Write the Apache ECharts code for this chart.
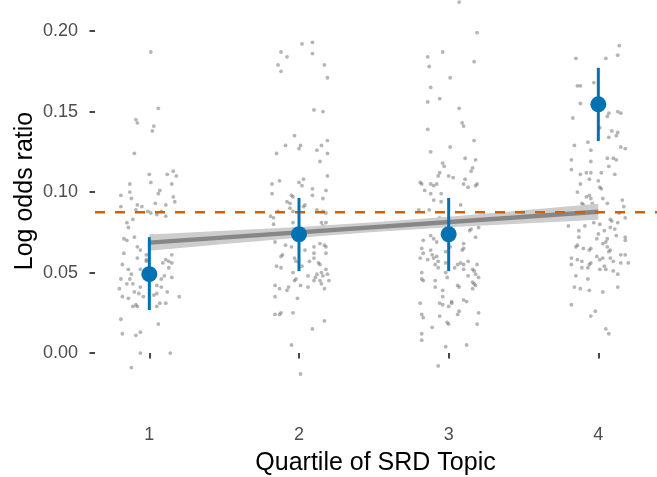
<!DOCTYPE html>
<html>
<head>
<meta charset="utf-8">
<script src="https://cdn.jsdelivr.net/npm/echarts@6/dist/echarts.min.js"></script>
<style>
  html, body { margin: 0; padding: 0; background: #ffffff; }
  #chart { width: 657px; height: 477px; }
</style>
</head>
<body>
<div id="chart"></div>
<script>
// Quartile positions and tick labels
const quartiles = [1, 2, 3, 4];
const yTicks = [0, 0.05, 0.10, 0.15, 0.20];

// Per-quartile estimates with intervals
const quartileMeans = [0.0490, 0.0738, 0.0738, 0.1545];
const quartileLower = [0.0267, 0.0509, 0.0509, 0.1317];
const quartileUpper = [0.0720, 0.0963, 0.0963, 0.1772];

// Overall reference level (dashed line)
const referenceLevel = 0.0875;

// Linear fit across quartiles and its confidence band
const fitX = [1, 1.5, 2, 2.5, 3, 3.5, 4];
const fitEnds = [0.0686, 0.0878];
const fitLow = [0.0636, 0.0677, 0.0717, 0.0752, 0.0781, 0.0805, 0.0828];
const fitHigh = [0.0736, 0.0759, 0.0783, 0.0812, 0.0847, 0.0887, 0.0928];

// Individual topic estimates: [horizontal jitter, log odds ratio]
const q1Points = [
  [0.01,0.187],[0.06,0.152],[-0.08,0.143],[-0.09,0.145],[0.03,0.141],[0.02,0.138],[-0.10,0.124],
  [0.00,0.111],[0.12,0.111],[0.16,0.113],[0.18,0.110],[-0.13,0.105],[0.01,0.106],[0.15,0.105],
  [-0.13,0.100],[0.07,0.101],[0.06,0.099],[-0.19,0.098],[-0.12,0.096],[0.04,0.093],[0.16,0.097],
  [0.17,0.094],[-0.08,0.092],[-0.05,0.091],[-0.19,0.091],[0.11,0.092],[-0.01,0.088],[0.01,0.087],
  [0.08,0.088],[-0.09,0.089],[-0.15,0.081],[-0.11,0.083],[0.05,0.086],[0.11,0.085],[-0.14,0.078],
  [0.02,0.073],[-0.17,0.071],[-0.15,0.070],[-0.10,0.072],[0.09,0.071],[-0.08,0.066],[-0.06,0.064],
  [-0.02,0.061],[0.15,0.061],[0.11,0.058],[0.13,0.057],[-0.17,0.062],[-0.08,0.059],[-0.02,0.058],
  [-0.02,0.057],[0.09,0.056],[0.15,0.056],[-0.18,0.055],[-0.14,0.052],[-0.06,0.052],[0.13,0.053],
  [-0.12,0.049],[-0.13,0.046],[-0.19,0.046],[0.08,0.046],[0.10,0.048],[0.15,0.047],[-0.15,0.043],
  [-0.11,0.043],[-0.06,0.041],[0.05,0.042],[0.08,0.041],[-0.20,0.040],[-0.10,0.038],[-0.07,0.037],
  [0.12,0.038],[-0.18,0.035],[-0.14,0.034],[-0.04,0.035],[0.03,0.036],[0.05,0.037],[0.20,0.035],
  [-0.09,0.030],[-0.11,0.029],[-0.08,0.029],[0.07,0.031],[0.05,0.029],[0.11,0.031],[-0.19,0.021],
  [0.06,0.018],[-0.18,0.012],[-0.09,0.011],[-0.06,0.013],[-0.06,0.000],[0.14,0.000],[-0.12,-0.009]
];
const q2Points = [
  [0.02,0.192],[0.09,0.193],[-0.12,0.187],[-0.08,0.184],[0.09,0.186],[-0.14,0.179],[-0.12,0.175],
  [0.17,0.179],[0.19,0.171],[0.10,0.151],[0.16,0.150],[-0.03,0.135],[-0.09,0.129],[0.01,0.129],
  [0.00,0.127],[0.15,0.129],[0.19,0.132],[-0.15,0.124],[0.12,0.126],[0.19,0.124],
  [0.14,0.119],[0.19,0.110],[-0.13,0.107],[-0.18,0.105],[0.00,0.106],[0.03,0.108],[0.02,0.104],
  [-0.18,0.099],[0.09,0.102],[0.18,0.101],[-0.05,0.098],[-0.04,0.097],[0.09,0.098],[0.16,0.096],
  [-0.08,0.094],[-0.06,0.093],[0.04,0.092],[0.03,0.091],[-0.06,0.090],[-0.14,0.088],[-0.19,0.085],
  [-0.17,0.084],[-0.04,0.088],[0.12,0.089],[0.16,0.088],[0.18,0.087],[-0.04,0.081],[-0.17,0.080],
  [-0.19,0.076],[0.15,0.081],[0.16,0.079],[0.18,0.081],[0.04,0.077],[0.18,0.076],[-0.09,0.067],
  [-0.16,0.069],[0.14,0.068],[0.17,0.067],[0.18,0.066],[-0.05,0.066],[0.10,0.066],[0.04,0.064],
  [0.10,0.062],[0.18,0.062],[-0.12,0.060],[-0.11,0.061],[-0.03,0.059],[-0.02,0.057],[0.07,0.057],
  [0.10,0.059],[0.13,0.056],[0.14,0.055],[-0.15,0.054],[-0.12,0.053],[0.02,0.054],[0.18,0.052],
  [0.15,0.050],[0.16,0.048],[0.19,0.049],[-0.04,0.050],[0.12,0.049],[0.11,0.047],[0.06,0.048],
  [-0.02,0.046],[-0.03,0.045],[0.10,0.045],[0.14,0.045],[0.20,0.045],[0.15,0.043],[-0.16,0.042],
  [-0.13,0.040],[-0.07,0.041],[-0.08,0.039],[0.01,0.042],[0.06,0.041],[0.17,0.040],[-0.16,0.035],
  [-0.01,0.034],[-0.16,0.024],[-0.13,0.024],[-0.12,0.025],[-0.04,0.025],[0.17,0.020],[0.09,0.015],
  [-0.05,0.005],[0.01,-0.013]
];
const q3Points = [
  [0.07,0.218],[0.19,0.199],[-0.04,0.187],[-0.14,0.184],[0.17,0.181],[-0.13,0.178],[0.01,0.171],
  [-0.12,0.165],[-0.06,0.158],[-0.14,0.156],[0.07,0.152],[0.09,0.143],[0.10,0.141],[-0.14,0.139],
  [0.17,0.132],[0.01,0.128],[-0.12,0.125],[0.11,0.121],[0.18,0.120],
  [-0.04,0.118],[-0.03,0.116],[0.16,0.115],[-0.06,0.112],[0.15,0.113],[-0.07,0.110],[0.00,0.110],
  [0.03,0.109],[0.11,0.108],[-0.19,0.106],[-0.18,0.105],[-0.12,0.105],[-0.10,0.104],[-0.08,0.105],
  [0.10,0.105],[0.13,0.103],[0.18,0.104],[0.19,0.105],[-0.16,0.101],[-0.12,0.099],[-0.05,0.099],
  [-0.10,0.095],[-0.05,0.094],[0.08,0.092],[-0.20,0.089],[-0.13,0.089],[-0.06,0.084],[0.09,0.084],
  [0.15,0.084],[-0.02,0.081],[0.15,0.077],[0.14,0.076],[0.20,0.078],[-0.12,0.073],[-0.17,0.070],
  [-0.10,0.071],[-0.08,0.069],[0.18,0.072],[0.10,0.068],[0.01,0.066],[-0.18,0.065],[-0.12,0.064],
  [0.09,0.064],[0.10,0.065],[-0.02,0.063],[-0.17,0.062],[-0.11,0.061],[-0.08,0.060],[-0.19,0.059],
  [-0.14,0.058],[-0.10,0.059],[-0.07,0.057],[-0.02,0.056],[0.13,0.057],[0.06,0.055],[0.08,0.056],
  [0.10,0.055],[0.19,0.055],[-0.09,0.055],[-0.07,0.053],[0.04,0.053],[0.10,0.052],[0.16,0.052],
  [0.17,0.051],[-0.02,0.050],[-0.01,0.047],[-0.18,0.050],[0.13,0.048],[0.18,0.049],[0.20,0.047],
  [-0.18,0.046],[-0.17,0.045],[-0.09,0.045],[0.16,0.044],[0.17,0.043],[0.18,0.042],[-0.09,0.041],
  [0.06,0.042],[0.07,0.041],[0.16,0.040],[-0.04,0.039],[-0.04,0.035],[-0.19,0.031],[-0.06,0.031],
  [-0.04,0.030],[0.02,0.032],[0.02,0.031],[0.00,0.029],[0.10,0.033],[0.12,0.032],[0.06,0.024],
  [0.07,0.026],[-0.18,0.024],[-0.17,0.022],[-0.06,0.023],[0.20,0.025],[-0.01,0.019],[0.00,0.018],
  [0.19,0.018],[-0.11,0.016],[-0.18,0.012],[-0.18,0.008],[-0.02,0.004],[0.12,0.005],[-0.07,-0.008]
];
const q4Points = [
  [0.14,0.191],[0.13,0.185],[-0.15,0.183],[0.05,0.183],[-0.03,0.168],[-0.14,0.166],[-0.12,0.166],
  [-0.12,0.155],[-0.17,0.146],[0.07,0.149],[0.06,0.147],[0.13,0.150],[0.15,0.149],[0.01,0.140],
  [0.09,0.138],[0.13,0.137],[0.12,0.135],[0.07,0.134],[-0.07,0.131],[-0.16,0.129],[0.15,0.128],
  [0.18,0.127],[-0.05,0.126],[-0.18,0.120],[0.06,0.121],[0.10,0.121],[0.12,0.120],
  [-0.05,0.119],[0.07,0.116],[-0.18,0.114],[-0.12,0.111],[-0.08,0.112],[-0.05,0.112],[0.02,0.112],
  [0.11,0.111],[-0.06,0.108],[0.00,0.107],[-0.12,0.105],[0.01,0.103],[0.02,0.102],[-0.14,0.100],
  [-0.08,0.097],[-0.06,0.098],[-0.05,0.096],[0.03,0.096],[0.16,0.095],[-0.11,0.093],[-0.10,0.092],
  [-0.07,0.091],[-0.04,0.093],[0.06,0.093],[0.17,0.091],[-0.14,0.086],[-0.05,0.085],[-0.04,0.084],
  [-0.03,0.081],[0.14,0.087],[0.08,0.083],[0.09,0.082],[0.18,0.084],[0.01,0.080],[0.13,0.081],
  [-0.20,0.079],[-0.09,0.079],[0.08,0.078],[0.11,0.077],[-0.13,0.076],[0.04,0.076],[0.00,0.074],
  [0.12,0.073],[0.18,0.072],[0.18,0.070],[-0.13,0.072],[-0.01,0.071],[0.06,0.071],[0.05,0.069],
  [0.03,0.068],[-0.14,0.067],[-0.15,0.066],[0.06,0.066],[-0.10,0.065],[-0.05,0.065],[-0.06,0.064],
  [0.08,0.064],[0.07,0.063],[-0.18,0.059],[-0.14,0.058],[-0.11,0.057],[-0.01,0.060],[0.01,0.058],
  [0.03,0.059],[0.08,0.059],[0.15,0.061],[0.18,0.061],[-0.05,0.056],[-0.06,0.055],[0.10,0.057],
  [0.15,0.056],[0.20,0.056],[-0.18,0.055],[0.04,0.054],[-0.11,0.053],[-0.07,0.053],[0.01,0.052],
  [0.05,0.052],[0.10,0.051],[0.13,0.049],[-0.15,0.048],[-0.07,0.046],[-0.16,0.041],[-0.12,0.040],
  [-0.06,0.039],[0.03,0.038],[0.13,0.041],[-0.18,0.030],[-0.02,0.026],[-0.05,0.023],[0.05,0.015],
  [0.07,0.012]
];

const X_MIN = 0.637;
const X_MAX = 4.392;

const pointGroups = [q1Points, q2Points, q3Points, q4Points];
const topicPoints = [];
pointGroups.forEach((group, gi) => {
  group.forEach(p => topicPoints.push([quartiles[gi] + p[0], p[1]]));
});

const intervalRows = quartiles.map((q, i) => [q, quartileMeans[i], quartileLower[i], quartileUpper[i]]);
const bandRows = fitX.map((x, i) => [x, fitLow[i], fitHigh[i]]);

const FONT = '"Liberation Sans", Arial, Helvetica, sans-serif';
const chart = echarts.init(document.getElementById('chart'), null, { renderer: 'canvas' });

chart.setOption({
  animation: false,
  backgroundColor: '#ffffff',
  grid: { left: 95, right: 0, top: 0, bottom: 60.5, containLabel: false },
  xAxis: {
    type: 'value',
    min: X_MIN,
    max: X_MAX,
    axisLine: { show: false },
    splitLine: { show: false },
    axisTick: { show: true, customValues: quartiles, length: 5.5, lineStyle: { color: '#333333', width: 1.8 } },
    axisLabel: { customValues: quartiles, margin: 10, color: '#4d4d4d', fontSize: 18, fontFamily: FONT,
      formatter: v => String(v) }
  },
  yAxis: {
    type: 'value',
    min: -0.0394,
    max: 0.2193,
    axisLine: { show: false },
    splitLine: { show: false },
    axisTick: { show: true, customValues: yTicks, length: 5.5, lineStyle: { color: '#333333', width: 1.8 } },
    axisLabel: { customValues: yTicks, margin: 17, color: '#4d4d4d', fontSize: 18, fontFamily: FONT,
      formatter: v => v.toFixed(2) }
  },
  graphic: [
    { type: 'text', x: 375.5, y: 463, z: 10,
      style: { text: 'Quartile of SRD Topic', fill: '#000000', font: '25px ' + FONT, textAlign: 'center', textVerticalAlign: 'middle' } },
    { type: 'text', x: 25, y: 191, rotation: Math.PI / 2, z: 10,
      style: { text: 'Log odds ratio', fill: '#000000', font: '25px ' + FONT, textAlign: 'center', textVerticalAlign: 'middle' } }
  ],
  series: [
    {
      type: 'scatter',
      data: topicPoints,
      symbolSize: 3.8,
      itemStyle: { color: 'rgba(95,95,95,0.58)' },
      z: 1,
      silent: true
    },
    {
      type: 'custom',
      data: bandRows,
      z: 2,
      silent: true,
      renderItem: (params, api) => {
        if (params.dataIndex !== 0) return null;
        const pts = [];
        bandRows.forEach(r => pts.push(api.coord([r[0], r[2]])));
        for (let i = bandRows.length - 1; i >= 0; i--) pts.push(api.coord([bandRows[i][0], bandRows[i][1]]));
        return { type: 'polygon', shape: { points: pts }, style: { fill: '#cdcdcd' } };
      }
    },
    {
      type: 'line',
      data: [[fitX[0], fitEnds[0]], [fitX[fitX.length - 1], fitEnds[1]]],
      symbol: 'none',
      lineStyle: { color: '#878787', width: 4.5 },
      z: 3,
      silent: true
    },
    {
      type: 'line',
      data: [[X_MIN, referenceLevel], [X_MAX, referenceLevel]],
      symbol: 'none',
      lineStyle: { color: '#D55E00', type: [10, 10], width: 2.5 },
      z: 4,
      silent: true
    },
    {
      type: 'custom',
      data: intervalRows,
      z: 5,
      silent: true,
      renderItem: (params, api) => {
        const x = api.value(0);
        const mid = api.coord([x, api.value(1)]);
        const lo = api.coord([x, api.value(2)]);
        const hi = api.coord([x, api.value(3)]);
        return {
          type: 'group',
          children: [
            { type: 'line', shape: { x1: lo[0], y1: lo[1], x2: hi[0], y2: hi[1] },
              style: { stroke: '#0072B2', lineWidth: 3 } },
            { type: 'circle', shape: { cx: mid[0], cy: mid[1], r: 8 }, style: { fill: '#0072B2' } }
          ]
        };
      }
    }
  ]
});
</script>
</body>
</html>
